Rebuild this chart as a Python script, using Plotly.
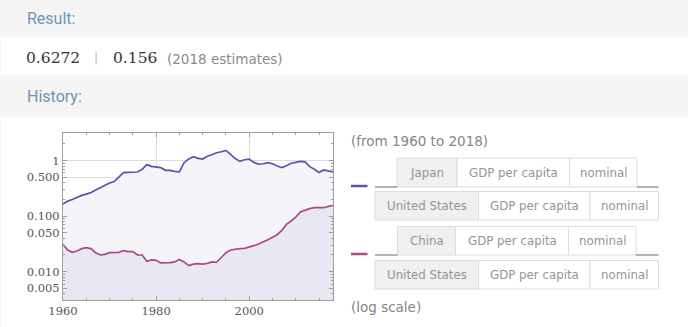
import plotly.graph_objects as go

W, H = 688, 327

years = list(range(1960, 2019))
japan = [0.166, 0.187, 0.20, 0.22, 0.237, 0.25, 0.265, 0.296, 0.326, 0.35,
         0.395, 0.42, 0.50, 0.61, 0.615, 0.615, 0.625, 0.70, 0.85, 0.79,
         0.77, 0.75, 0.67, 0.67, 0.64, 0.63, 0.92, 1.07, 1.18, 1.10,
         1.07, 1.20, 1.28, 1.39, 1.45, 1.53, 1.30, 1.09, 0.97, 1.04,
         1.07, 0.93, 0.87, 0.88, 0.92, 0.88, 0.80, 0.75, 0.81, 0.90,
         0.93, 0.97, 0.95, 0.78, 0.70, 0.615, 0.68, 0.66, 0.6272]
china = [0.0311, 0.0246, 0.0223, 0.0236, 0.026, 0.027, 0.026, 0.022, 0.020, 0.0205,
         0.022, 0.022, 0.0223, 0.024, 0.023, 0.023, 0.020, 0.020, 0.0154, 0.0163,
         0.016, 0.0144, 0.0143, 0.0146, 0.015, 0.0166, 0.015, 0.0129, 0.0137, 0.014,
         0.0137, 0.0141, 0.015, 0.0148, 0.018, 0.022, 0.0246, 0.0256, 0.026, 0.0263,
         0.0274, 0.0294, 0.0316, 0.0342, 0.0376, 0.0416, 0.0464, 0.0556, 0.071, 0.082,
         0.096, 0.119, 0.129, 0.137, 0.142, 0.142, 0.142, 0.15, 0.156]

x_ticks = [1960, 1980, 2000]
y_ticks = [0.005, 0.01, 0.05, 0.1, 0.5, 1]
y_ticktext = ["0.005", "0.010", "0.050", "0.100", "0.500", "1"]
y_minor = [m * 10 ** e for e in (-3, -2, -1, 0) for m in range(1, 10)]

result_text = ["0.6272", "0.156"]
legend_rows = [
    ["Japan", "GDP per capita", "nominal"],
    ["United States", "GDP per capita", "nominal"],
    ["China", "GDP per capita", "nominal"],
    ["United States", "GDP per capita", "nominal"],
]
line_colors = ["#5656ab", "#a84c80"]
fill_colors = ["#f4f4f9", "#e8e8f2"]


def px(x):
    return x / W


def py(y):
    return 1 - y / H


fig = go.Figure()
for name, vals, lc, fc in [("Japan", japan, line_colors[0], fill_colors[0]),
                           ("China", china, line_colors[1], fill_colors[1])]:
    fig.add_trace(go.Scatter(x=years, y=vals, mode="lines", name=name,
                             line=dict(color=lc, width=1.7),
                             fill="tozeroy", fillcolor=fc, showlegend=False,
                             hoverinfo="skip"))

shapes = []
annotations = []

# background bars
shapes.append(dict(type="rect", xref="paper", yref="paper", x0=0, x1=1, y0=0, y1=1,
                   fillcolor="#f5f5f5", line=dict(width=0), layer="below"))
for (t, b) in [(37.5, 75), (117, 327)]:
    shapes.append(dict(type="rect", xref="paper", yref="paper", x0=px(1), x1=1,
                       y0=py(b), y1=py(t), fillcolor="#ffffff", line=dict(width=0),
                       layer="below"))

annotations.append(dict(text="Result:", x=px(25), y=py(18), xref="paper", yref="paper",
                        xanchor="left", yanchor="middle", showarrow=False,
                        font=dict(family="Roboto", size=16, color="#6b96b8")))
annotations.append(dict(text="History:", x=px(25), y=py(97), xref="paper", yref="paper",
                        xanchor="left", yanchor="middle", showarrow=False,
                        font=dict(family="Roboto", size=16, color="#6b96b8")))
annotations.append(dict(text=result_text[0], x=px(24), y=py(58), xref="paper", yref="paper",
                        xanchor="left", yanchor="middle", showarrow=False,
                        font=dict(family="DejaVu Serif", size=15.5, color="#333333")))
annotations.append(dict(text="|", x=px(96), y=py(58), xref="paper", yref="paper",
                        xanchor="center", yanchor="middle", showarrow=False,
                        font=dict(family="DejaVu Sans", size=12, color="#bbbbbb")))
annotations.append(dict(text=result_text[1], x=px(111), y=py(58), xref="paper", yref="paper",
                        xanchor="left", yanchor="middle", showarrow=False,
                        font=dict(family="DejaVu Serif", size=15.5, color="#333333")))
annotations.append(dict(text="(2018 estimates)", x=px(165), y=py(59), xref="paper", yref="paper",
                        xanchor="left", yanchor="middle", showarrow=False,
                        font=dict(family="DejaVu Sans", size=13.5, color="#8a8a8a")))

annotations.append(dict(text="(from 1960 to 2018)", x=px(349), y=py(141), xref="paper", yref="paper",
                        xanchor="left", yanchor="middle", showarrow=False,
                        font=dict(family="DejaVu Sans", size=13.5, color="#858585")))
annotations.append(dict(text="(log scale)", x=px(349), y=py(307), xref="paper", yref="paper",
                        xanchor="left", yanchor="middle", showarrow=False,
                        font=dict(family="DejaVu Sans", size=13.5, color="#858585")))

# legend table
row_geom = [
    (158, 187, [397, 457, 569.5, 637]),
    (191.5, 220, [375, 478.5, 590, 658.5]),
    (226.5, 255, [397.5, 455.5, 568.5, 636]),
    (260.5, 289, [375, 478.5, 590, 658.5]),
]
for ri, (t, b, xs) in enumerate(row_geom):
    for ci in range(3):
        shapes.append(dict(type="rect", xref="paper", yref="paper",
                           x0=px(xs[ci]), x1=px(xs[ci + 1]), y0=py(b), y1=py(t),
                           fillcolor="#f0f0f0" if ci == 0 else "#ffffff",
                           line=dict(color="#dddddd", width=1)))
        annotations.append(dict(text=legend_rows[ri][ci],
                                x=px((xs[ci] + xs[ci + 1]) / 2), y=py((t + b) / 2 + 0.5),
                                xref="paper", yref="paper", xanchor="center", yanchor="middle",
                                showarrow=False,
                                font=dict(family="DejaVu Sans", size=11.8, color="#959595")))
    if ri in (0, 2):
        for (a, c) in [(375, xs[0]), (xs[3], 658.5)]:
            shapes.append(dict(type="line", xref="paper", yref="paper",
                               x0=px(a), x1=px(c), y0=py(b), y1=py(b),
                               line=dict(color="#666666", width=1)))
        shapes.append(dict(type="line", xref="paper", yref="paper",
                           x0=px(351), x1=px(367.5), y0=py(b - 1), y1=py(b - 1),
                           line=dict(color=line_colors[ri // 2], width=2.5)))

axis_common = dict(showline=True, linecolor="#a0a0a0", linewidth=1, mirror="ticks",
                   ticks="inside", ticklen=4, tickcolor="#a0a0a0", tickwidth=1,
                   showgrid=True, gridcolor="#dcdcdc", gridwidth=1, zeroline=False,
                   automargin=False,
                   tickfont=dict(family="DejaVu Serif", size=11.5, color="#555555"))

fig.update_layout(
    width=W, height=H,
    autosize=False,
    margin=dict(l=0, r=0, t=0, b=0, pad=0, autoexpand=False),
    paper_bgcolor="#ffffff", plot_bgcolor="#ffffff",
    showlegend=False,
    xaxis=dict(domain=[px(63), px(333)], range=[1960, 2018], tickmode="array",
               tickvals=x_ticks, ticktext=[str(v) for v in x_ticks],
               minor=dict(dtick=5, ticks="inside", ticklen=2, tickcolor="#a0a0a0",
                          showgrid=False),
               **axis_common),
    yaxis=dict(domain=[py(300), py(133.3)], type="log", range=[-2.51, 0.493],
               tickmode="array", tickvals=y_ticks, ticktext=y_ticktext,
               minor=dict(tickmode="array", tickvals=y_minor, ticks="inside", ticklen=2,
                          tickcolor="#a0a0a0", showgrid=False),
               **axis_common),
    shapes=shapes,
    annotations=annotations,
)

fig.write_html("out.html")
